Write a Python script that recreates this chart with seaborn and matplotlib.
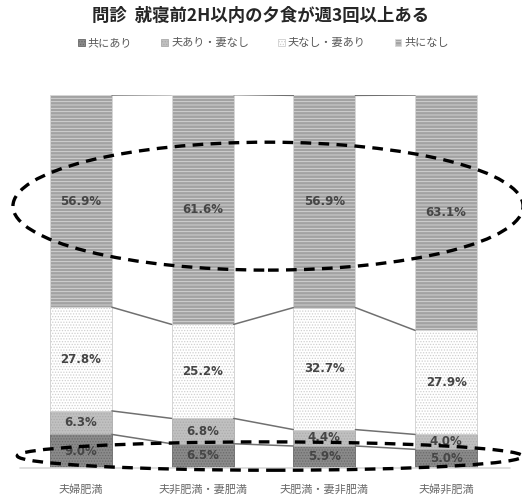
import numpy as np
import pandas as pd
import matplotlib
matplotlib.use("Agg")
import matplotlib.pyplot as plt
from matplotlib.patches import Ellipse, Patch
import seaborn as sns

title = "問診  就寝前2H以内の夕食が週3回以上ある"
categories = ["夫婦肥満", "夫非肥満・妻肥満", "夫肥満・妻非肥満", "夫婦非肥満"]
series = ["共にあり", "夫あり・妻なし", "夫なし・妻あり", "共になし"]
both_yes = [9.0, 6.5, 5.9, 5.0]
husband_only = [6.3, 6.8, 4.4, 4.0]
wife_only = [27.8, 25.2, 32.7, 27.9]
both_no = [56.9, 61.6, 56.9, 63.1]
values = [both_yes, husband_only, wife_only, both_no]

faces = ["#8a8a8a", "#c0c0c0", "#ffffff", "#a2a2a2"]
hatch_colors = ["#6a6a6a", "#ababab", "#cfcfcf", "#d8d8d8"]
hatches = ["......", "......", "......", "-----"]

sns.set_theme(style="white")
plt.rcParams["font.family"] = ["Noto Sans CJK JP", "DejaVu Sans"]
plt.rcParams["hatch.linewidth"] = 0.6

fig = plt.figure(figsize=(5.22, 4.95), dpi=100)
ax = fig.add_axes([20 / 522, 27 / 495, 487 / 522, 373 / 495])

bottom = np.zeros(len(categories))
layers = []
for name, vals, fc, hc, h in zip(series, values, faces, hatch_colors, hatches):
    df = pd.DataFrame({"cat": categories, "val": vals})
    n_before = len(ax.patches)
    sns.barplot(data=df, x="cat", y="val", order=categories, color=fc,
                saturation=1, width=0.51, bottom=bottom.copy(), ax=ax)
    bars = ax.patches[n_before:]
    for p in bars:
        p.set_facecolor(fc)
        p.set_edgecolor(hc)
        p.set_hatch(h)
        p.set_linewidth(0.6)
    layers.append((bars, vals))
    bottom = bottom + np.array(vals)

# data labels
for bars, vals in layers:
    for p, v in zip(bars, vals):
        cx = p.get_x() + p.get_width() / 2
        cy = p.get_y() + p.get_height() / 2
        ax.text(cx, cy, f"{v:.1f}%", ha="center", va="center", fontsize=8.5,
                fontweight="bold", color="#454545", family="DejaVu Sans")

# series lines
for bars, vals in layers:
    for a, b in zip(bars[:-1], bars[1:]):
        ax.plot([a.get_x() + a.get_width(), b.get_x()],
                [a.get_y() + a.get_height(), b.get_y() + b.get_height()],
                color="#707070", lw=1.1, zorder=3)

ax.set_xlim(-0.5, 3.5)
ax.set_ylim(0, 100)
ax.axhline(0, color="#d9d9d9", lw=1.2, xmin=0, xmax=1.006, clip_on=False)
for s in ax.spines.values():
    s.set_visible(False)
ax.set_yticks([])
ax.set_xlabel("")
ax.set_ylabel("")
ax.tick_params(axis="x", length=0, labelsize=8, colors="#6a6a6a", pad=12)

# dashed ellipses
ax.add_patch(Ellipse((1.537, 70.2), 4.19, 34.3, fill=False, ec="black",
                     lw=2.4, ls=(0, (3.2, 2.2)), clip_on=False, zorder=5))
ax.add_patch(Ellipse((1.553, 3.2), 4.15, 7.6, angle=0.6, fill=False, ec="black",
                     lw=2.4, ls=(0, (3.2, 2.2)), clip_on=False, zorder=5))

fig.suptitle(title, y=1 - 16 / 495, va="center", fontsize=12.5, fontweight="bold",
             color="#262626")

handles = [Patch(facecolor=fc, edgecolor=hc, hatch=h, lw=0.6)
           for fc, hc, h in zip(faces, hatch_colors, hatches)]
fig.legend(handles, series, loc="center", bbox_to_anchor=(0.505, 1 - 43 / 495),
           ncol=4, frameon=False, fontsize=8, handlelength=0.6, handleheight=0.6,
           handletextpad=0.3, columnspacing=2.6, labelcolor="#595959")

fig.savefig("out.png", dpi=100)
